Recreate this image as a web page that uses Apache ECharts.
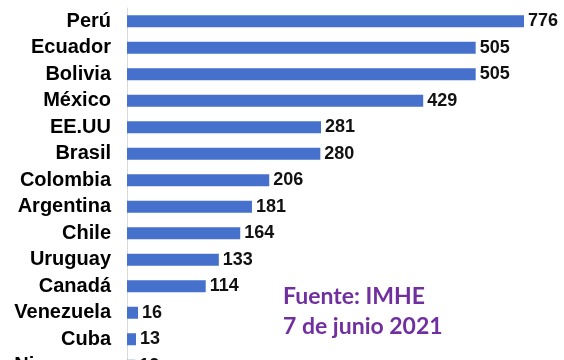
<!DOCTYPE html>
<html>
<head>
<meta charset="utf-8">
<script src="https://cdn.jsdelivr.net/npm/echarts@6/dist/echarts.min.js"></script>
<style>html,body{margin:0;padding:0;background:#fff;overflow:hidden;}#c{width:564px;height:380px;}</style>
</head>
<body>
<div id="c"></div>
<script>
const categories = ['Perú','Ecuador','Bolivia','México','EE.UU','Brasil','Colombia','Argentina','Chile','Uruguay','Canadá','Venezuela','Cuba','Nicaragua'];
const values = [776,505,505,429,281,280,206,181,164,133,114,16,13,12];
const sourceLines = ['Fuente: IMHE','7 de junio 2021'];

const chart = echarts.init(document.getElementById('c'), null, {renderer:'canvas'});
chart.setOption({
  backgroundColor:'#ffffff',
  animation:false,
  grid:{left:127, right:40, top:8, bottom:1},
  xAxis:{type:'value', min:0, max:575, show:false},
  yAxis:{
    type:'category', data:categories, inverse:true,
    axisLine:{show:true, lineStyle:{color:'#d9d9d9', width:1}},
    axisTick:{show:false},
    axisLabel:{color:'#000', fontFamily:'Liberation Sans, Arial, sans-serif', fontWeight:'bold', fontSize:20, margin:16}
  },
  series:[{
    type:'bar', data:values, barWidth:12, clip:true,
    itemStyle:{color:'#4570cc'},
    label:{show:true, position:'right', distance:4, color:'#111', fontFamily:'Liberation Sans, Arial, sans-serif', fontWeight:'bold', fontSize:18}
  }],
  graphic:[{
    type:'text', left:283, top:282,
    style:{text:sourceLines.join('\n'), fill:'#7030a0', font:'bold 23px Lato, "Open Sans", sans-serif', lineHeight:30}
  }]
});
</script>
</body>
</html>
